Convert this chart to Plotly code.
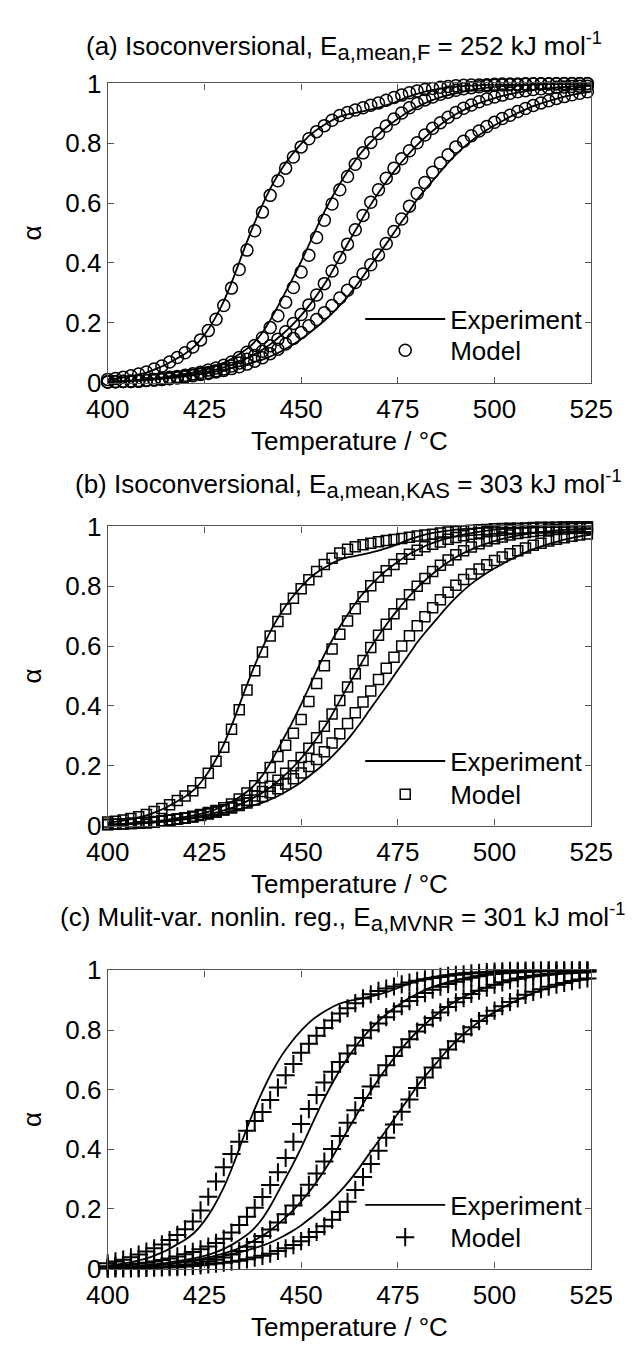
import plotly.graph_objects as go

# ---------------- data ----------------
# temperatures of the experimental curves (lines)
temperature_c = [400, 402.5, 405, 407.5, 410, 412.5, 415, 417.5, 420, 422.5,
                 425, 427.5, 430, 432.5, 435, 437.5, 440, 442.5, 445, 447.5,
                 450, 452.5, 455, 457.5, 460, 462.5, 465, 467.5, 470, 472.5,
                 475, 477.5, 480, 482.5, 485, 487.5, 490, 492.5, 495, 497.5,
                 500, 502.5, 505, 507.5, 510, 512.5, 515, 517.5, 520, 522.5, 525]
# temperatures of the model markers
model_temperature_c = [400, 402, 404, 406, 408, 410, 412, 414, 416, 418,
                       420, 422, 424, 426, 428, 430, 432, 434, 436, 438,
                       440, 442, 444, 446, 448, 450, 452, 454, 456, 458,
                       460, 462, 464, 466, 468, 470, 472, 474, 476, 478,
                       480, 482, 484, 486, 488, 490, 492, 494, 496, 498,
                       500, 502, 504, 506, 508, 510, 512, 514, 516, 518,
                       520, 522, 524]

# experimental conversion curves (same in all three panels)
exp_1 = [0.010, 0.014, 0.019, 0.026, 0.034, 0.046, 0.060, 0.078, 0.097, 0.122, 0.160, 0.210, 0.272, 0.350, 0.437, 0.520, 0.594, 0.660, 0.715, 0.760, 0.798, 0.830, 0.854, 0.873, 0.889, 0.898, 0.904, 0.911, 0.919, 0.929, 0.941, 0.954, 0.965, 0.974, 0.980, 0.985, 0.989, 0.992, 0.993, 0.995, 0.996, 0.997, 0.997, 0.998, 0.998, 0.999, 0.999, 0.999, 0.999, 1.000, 1.000]
exp_2 = [0.004, 0.005, 0.007, 0.009, 0.012, 0.015, 0.019, 0.024, 0.029, 0.035, 0.043, 0.053, 0.066, 0.083, 0.104, 0.130, 0.168, 0.220, 0.280, 0.340, 0.405, 0.475, 0.545, 0.608, 0.665, 0.715, 0.760, 0.797, 0.830, 0.858, 0.882, 0.904, 0.921, 0.937, 0.949, 0.959, 0.967, 0.974, 0.980, 0.985, 0.989, 0.992, 0.994, 0.995, 0.996, 0.997, 0.998, 0.998, 0.999, 0.999, 0.999]
exp_3 = [0.003, 0.004, 0.005, 0.007, 0.009, 0.012, 0.015, 0.019, 0.024, 0.029, 0.035, 0.042, 0.051, 0.061, 0.075, 0.092, 0.110, 0.133, 0.160, 0.190, 0.225, 0.265, 0.310, 0.360, 0.418, 0.475, 0.530, 0.585, 0.635, 0.680, 0.722, 0.760, 0.795, 0.825, 0.852, 0.876, 0.897, 0.914, 0.929, 0.941, 0.951, 0.960, 0.967, 0.973, 0.978, 0.982, 0.985, 0.988, 0.990, 0.992, 0.993]
exp_4 = [0.003, 0.004, 0.005, 0.007, 0.009, 0.011, 0.014, 0.017, 0.021, 0.025, 0.030, 0.036, 0.043, 0.050, 0.058, 0.067, 0.077, 0.090, 0.106, 0.124, 0.145, 0.170, 0.196, 0.225, 0.258, 0.295, 0.337, 0.383, 0.428, 0.473, 0.520, 0.565, 0.612, 0.652, 0.690, 0.728, 0.762, 0.792, 0.818, 0.840, 0.860, 0.878, 0.895, 0.910, 0.924, 0.935, 0.945, 0.954, 0.962, 0.968, 0.973]

# (a) isoconversional, Friedman mean
model_a_1 = [0.011, 0.014, 0.018, 0.023, 0.029, 0.036, 0.046, 0.056, 0.069, 0.084, 0.100, 0.119, 0.143, 0.174, 0.212, 0.258, 0.316, 0.378, 0.443, 0.508, 0.570, 0.626, 0.675, 0.717, 0.754, 0.788, 0.815, 0.839, 0.859, 0.877, 0.893, 0.903, 0.911, 0.919, 0.927, 0.935, 0.944, 0.953, 0.961, 0.969, 0.975, 0.980, 0.983, 0.987, 0.990, 0.992, 0.994, 0.995, 0.995, 0.996, 0.997, 0.998, 0.998, 0.998, 0.999, 0.999, 0.999, 0.999, 0.999, 1.000, 1.000, 1.000, 1.000]
model_a_2 = [0.003, 0.004, 0.005, 0.006, 0.007, 0.009, 0.011, 0.014, 0.018, 0.021, 0.025, 0.030, 0.035, 0.042, 0.049, 0.058, 0.069, 0.084, 0.102, 0.124, 0.150, 0.184, 0.224, 0.269, 0.318, 0.370, 0.426, 0.485, 0.543, 0.597, 0.645, 0.689, 0.730, 0.768, 0.803, 0.833, 0.858, 0.881, 0.901, 0.919, 0.933, 0.945, 0.955, 0.964, 0.971, 0.977, 0.982, 0.986, 0.989, 0.992, 0.994, 0.995, 0.996, 0.996, 0.997, 0.998, 0.998, 0.998, 0.999, 0.999, 0.999, 0.999, 0.999]
model_a_3 = [0.002, 0.003, 0.004, 0.004, 0.005, 0.007, 0.009, 0.011, 0.014, 0.017, 0.021, 0.025, 0.030, 0.034, 0.040, 0.046, 0.056, 0.066, 0.078, 0.091, 0.105, 0.123, 0.145, 0.170, 0.198, 0.228, 0.260, 0.293, 0.331, 0.373, 0.418, 0.463, 0.511, 0.559, 0.603, 0.645, 0.683, 0.717, 0.748, 0.775, 0.802, 0.828, 0.850, 0.869, 0.887, 0.903, 0.917, 0.928, 0.939, 0.948, 0.955, 0.961, 0.967, 0.972, 0.976, 0.980, 0.982, 0.985, 0.987, 0.988, 0.990, 0.991, 0.991]
model_a_4 = [0.002, 0.003, 0.004, 0.004, 0.005, 0.007, 0.009, 0.011, 0.013, 0.016, 0.019, 0.023, 0.027, 0.031, 0.036, 0.041, 0.047, 0.053, 0.062, 0.072, 0.083, 0.097, 0.112, 0.129, 0.148, 0.168, 0.190, 0.211, 0.234, 0.258, 0.283, 0.309, 0.335, 0.363, 0.394, 0.427, 0.465, 0.505, 0.547, 0.590, 0.632, 0.669, 0.703, 0.734, 0.762, 0.788, 0.807, 0.825, 0.841, 0.856, 0.870, 0.883, 0.894, 0.906, 0.916, 0.926, 0.935, 0.942, 0.950, 0.956, 0.962, 0.967, 0.972]

# (b) isoconversional, KAS mean
model_b_1 = [0.012, 0.015, 0.019, 0.024, 0.030, 0.037, 0.047, 0.057, 0.070, 0.084, 0.099, 0.117, 0.143, 0.175, 0.215, 0.262, 0.322, 0.387, 0.453, 0.518, 0.580, 0.634, 0.682, 0.724, 0.760, 0.792, 0.822, 0.849, 0.873, 0.894, 0.911, 0.924, 0.932, 0.939, 0.944, 0.949, 0.953, 0.956, 0.960, 0.964, 0.968, 0.971, 0.974, 0.978, 0.981, 0.983, 0.985, 0.987, 0.989, 0.990, 0.992, 0.993, 0.994, 0.994, 0.995, 0.996, 0.997, 0.997, 0.997, 0.998, 0.998, 0.999, 0.999]
model_b_2 = [0.004, 0.005, 0.006, 0.007, 0.008, 0.010, 0.012, 0.015, 0.019, 0.022, 0.026, 0.031, 0.037, 0.044, 0.051, 0.060, 0.072, 0.089, 0.109, 0.133, 0.160, 0.194, 0.231, 0.269, 0.309, 0.355, 0.415, 0.475, 0.534, 0.590, 0.640, 0.684, 0.725, 0.765, 0.802, 0.830, 0.852, 0.873, 0.892, 0.907, 0.920, 0.932, 0.940, 0.948, 0.957, 0.963, 0.969, 0.974, 0.978, 0.982, 0.985, 0.987, 0.990, 0.992, 0.993, 0.994, 0.995, 0.995, 0.996, 0.997, 0.998, 0.998, 0.998]
model_b_3 = [0.004, 0.005, 0.006, 0.007, 0.008, 0.010, 0.012, 0.015, 0.018, 0.021, 0.025, 0.029, 0.034, 0.040, 0.046, 0.053, 0.062, 0.072, 0.085, 0.099, 0.114, 0.132, 0.152, 0.175, 0.200, 0.228, 0.259, 0.294, 0.332, 0.373, 0.418, 0.463, 0.508, 0.552, 0.595, 0.636, 0.673, 0.708, 0.741, 0.772, 0.800, 0.826, 0.849, 0.870, 0.888, 0.905, 0.919, 0.931, 0.942, 0.951, 0.959, 0.965, 0.971, 0.976, 0.980, 0.983, 0.986, 0.988, 0.990, 0.991, 0.993, 0.994, 0.994]
model_b_4 = [0.004, 0.005, 0.006, 0.008, 0.009, 0.011, 0.013, 0.016, 0.019, 0.022, 0.026, 0.030, 0.035, 0.040, 0.046, 0.052, 0.059, 0.067, 0.076, 0.086, 0.097, 0.110, 0.123, 0.139, 0.157, 0.176, 0.198, 0.221, 0.247, 0.276, 0.307, 0.341, 0.377, 0.413, 0.450, 0.488, 0.526, 0.563, 0.600, 0.635, 0.668, 0.698, 0.728, 0.755, 0.780, 0.803, 0.823, 0.841, 0.858, 0.872, 0.886, 0.898, 0.909, 0.919, 0.928, 0.937, 0.944, 0.951, 0.957, 0.962, 0.967, 0.971, 0.975]

# (c) multivariate nonlinear regression
model_c_1 = [0.018, 0.024, 0.030, 0.038, 0.047, 0.057, 0.068, 0.081, 0.096, 0.113, 0.132, 0.158, 0.195, 0.241, 0.292, 0.340, 0.384, 0.425, 0.462, 0.495, 0.525, 0.565, 0.607, 0.648, 0.686, 0.724, 0.754, 0.781, 0.807, 0.832, 0.855, 0.873, 0.890, 0.906, 0.920, 0.931, 0.939, 0.946, 0.953, 0.959, 0.965, 0.970, 0.974, 0.978, 0.982, 0.985, 0.987, 0.990, 0.992, 0.994, 0.996, 0.997, 0.998, 0.998, 0.999, 0.999, 1.000, 1.000, 1.000, 1.000, 1.000, 1.000, 1.000]
model_c_2 = [0.008, 0.010, 0.012, 0.014, 0.017, 0.020, 0.024, 0.029, 0.034, 0.041, 0.048, 0.056, 0.065, 0.074, 0.086, 0.100, 0.121, 0.146, 0.174, 0.204, 0.240, 0.280, 0.323, 0.371, 0.425, 0.485, 0.535, 0.582, 0.624, 0.660, 0.693, 0.721, 0.748, 0.774, 0.799, 0.822, 0.843, 0.862, 0.880, 0.897, 0.911, 0.924, 0.935, 0.945, 0.954, 0.962, 0.969, 0.975, 0.980, 0.985, 0.988, 0.990, 0.992, 0.994, 0.995, 0.996, 0.997, 0.998, 0.998, 0.998, 0.999, 0.999, 0.999]
model_c_3 = [0.001, 0.002, 0.002, 0.002, 0.003, 0.004, 0.005, 0.006, 0.008, 0.010, 0.012, 0.015, 0.019, 0.024, 0.030, 0.037, 0.047, 0.059, 0.073, 0.089, 0.109, 0.131, 0.155, 0.182, 0.212, 0.245, 0.281, 0.319, 0.359, 0.401, 0.445, 0.489, 0.531, 0.572, 0.611, 0.648, 0.682, 0.713, 0.742, 0.769, 0.795, 0.818, 0.840, 0.859, 0.877, 0.893, 0.907, 0.921, 0.932, 0.942, 0.952, 0.960, 0.967, 0.973, 0.978, 0.982, 0.985, 0.988, 0.990, 0.992, 0.994, 0.995, 0.995]
model_c_4 = [0.000, 0.001, 0.001, 0.001, 0.001, 0.002, 0.003, 0.004, 0.005, 0.005, 0.007, 0.009, 0.011, 0.014, 0.017, 0.020, 0.023, 0.026, 0.031, 0.037, 0.043, 0.050, 0.059, 0.068, 0.079, 0.092, 0.106, 0.123, 0.142, 0.164, 0.190, 0.224, 0.264, 0.307, 0.351, 0.395, 0.439, 0.483, 0.526, 0.567, 0.606, 0.641, 0.674, 0.705, 0.735, 0.762, 0.786, 0.809, 0.830, 0.848, 0.865, 0.880, 0.894, 0.906, 0.918, 0.928, 0.937, 0.945, 0.952, 0.958, 0.964, 0.969, 0.973]

x_tick_values = [400, 425, 450, 475, 500, 525]
y_tick_values = [0, 0.2, 0.4, 0.6, 0.8, 1]

SUB = "<sub><span style='font-size:22px'>{}</span></sub>"
panel_titles = [
    "(a) Isoconversional, E" + SUB.format("a,mean,F") + " = 252 kJ mol<sup>-1</sup>",
    "(b) Isoconversional, E" + SUB.format("a,mean,KAS") + " = 303 kJ mol<sup>-1</sup>",
    "(c) Mulit-var. nonlin. reg., E" + SUB.format("a,MVNR") + " = 301 kJ mol<sup>-1</sup>",
]
legend_labels = ["Experiment", "Model"]
x_title = "Temperature / °C"
y_title = "α"

experiment_series = [exp_1, exp_2, exp_3, exp_4]
model_series = [
    [model_a_1, model_a_2, model_a_3, model_a_4],
    [model_b_1, model_b_2, model_b_3, model_b_4],
    [model_c_1, model_c_2, model_c_3, model_c_4],
]

for s in experiment_series:
    assert len(s) == len(temperature_c), len(s)
for grp in model_series:
    for s in grp:
        assert len(s) == len(model_temperature_c), len(s)

# ---------------- layout / style ----------------
W, H = 644, 1355
FONT = "Liberation Sans, Arial, Helvetica, sans-serif"
X_LEFT, X_RIGHT = 92, 611
x_dom = [X_LEFT / W, X_RIGHT / W]
boxes = [(70, 376), (523, 829), (977, 1282)]          # plot top / bottom px
title_y_px = [32, 480, 923]
title_x_px = [346, 350, 344]
legend_item_y_px = [(311, 343), (763, 797), (1217, 1250)]
LEGEND_X_PX = 363
LEGEND_ITEM_W = 80
markers = [
    dict(symbol="circle-open", size=12, line=dict(width=1.5)),
    dict(symbol="square-open", size=10, line=dict(width=1.5)),
    dict(symbol="cross-thin-open", size=13, line=dict(width=2)),
]
AXC = "#555555"

fig = go.Figure()
for p in range(3):
    suffix = "" if p == 0 else str(p + 1)
    xa, ya = "x" + suffix, "y" + suffix
    leg_exp = "legend" if p == 0 else "legend" + str(2 * p + 1)
    leg_mod = "legend" + str(2 * p + 2)
    for j, ser in enumerate(experiment_series):
        fig.add_trace(go.Scatter(
            x=temperature_c, y=ser, mode="lines",
            line=dict(color="black", width=1.8, shape="spline", smoothing=0.5),
            name=legend_labels[0], showlegend=(j == 0), legend=leg_exp,
            xaxis=xa, yaxis=ya, hoverinfo="skip"))
    for j, ser in enumerate(model_series[p]):
        mk = dict(markers[p])
        mk["color"] = "black"
        fig.add_trace(go.Scatter(
            x=model_temperature_c, y=ser, mode="markers", marker=mk,
            cliponaxis=False,
            name=legend_labels[1], showlegend=(j == 0), legend=leg_mod,
            xaxis=xa, yaxis=ya, hoverinfo="skip"))

axis_common = dict(
    showline=True, linecolor=AXC, linewidth=1.3, mirror="ticks",
    ticks="inside", ticklen=6, tickwidth=1.3, tickcolor=AXC,
    showgrid=False, zeroline=False,
    tickfont=dict(family=FONT, size=26, color="black"),
)

layout = dict(
    width=W, height=H, autosize=False,
    margin=dict(l=0, r=0, t=0, b=0),
    paper_bgcolor="white", plot_bgcolor="white",
    font=dict(family=FONT, size=26, color="black"),
    showlegend=True,
)
annotations = []
for p in range(3):
    suffix = "" if p == 0 else str(p + 1)
    top, bot = boxes[p]
    ydom = [1 - bot / H, 1 - top / H]
    layout["xaxis" + suffix] = dict(
        axis_common, domain=x_dom, range=[400, 525], tickvals=x_tick_values,
        anchor="y" + suffix, ticklabelstandoff=3,
        title=dict(text=x_title, font=dict(family=FONT, size=26), standoff=8))
    layout["yaxis" + suffix] = dict(
        axis_common, domain=ydom, range=[0, 1], tickvals=y_tick_values,
        anchor="x" + suffix,
        title=dict(text=y_title, font=dict(family=FONT, size=26), standoff=16))
    leg_names = ["legend" if p == 0 else "legend" + str(2 * p + 1),
                 "legend" + str(2 * p + 2)]
    for k in range(2):
        layout[leg_names[k]] = dict(
            x=LEGEND_X_PX / W, y=1 - legend_item_y_px[p][k] / H,
            xanchor="left", yanchor="middle", xref="paper", yref="paper",
            bgcolor="rgba(0,0,0,0)", borderwidth=0, itemwidth=LEGEND_ITEM_W,
            font=dict(family=FONT, size=26, color="black"))
    annotations.append(dict(
        text=panel_titles[p], xref="paper", yref="paper",
        x=title_x_px[p] / W, y=1 - title_y_px[p] / H,
        xanchor="center", yanchor="middle", showarrow=False,
        font=dict(family=FONT, size=26, color="black")))
layout["annotations"] = annotations
fig.update_layout(**layout)

fig.write_html("out.html")
